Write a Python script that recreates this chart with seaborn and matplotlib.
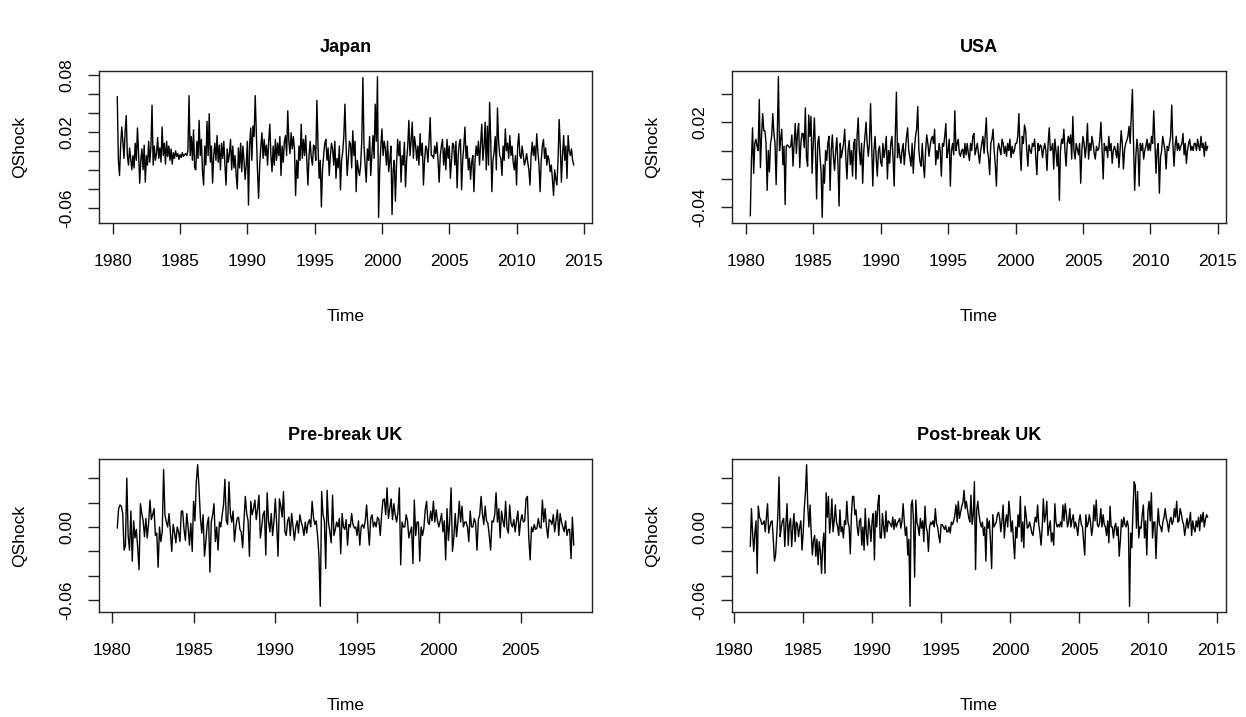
import numpy as np
import pandas as pd
import matplotlib
matplotlib.use("Agg")
import matplotlib.pyplot as plt
import seaborn as sns

# Monthly QShock series (units of 0.001)
japan_start = 1980 + 4 / 12
japan = [
    57, -10, -26, 5, 25, 10, -8, 20, 37, -5, -15, 3,
    -8, -20, -5, -18, 8, -10, 24, -2, -34, -10, 2, -20,
    6, -33, -5, -15, 10, -12, 4, 48, -15, 5, -10, -3,
    14, -8, 3, -12, 25, -5, 8, -14, 10, -6, 5, -10,
    2, -14, -2, -8, 0, -6, -3, -9, -4, -7, -2, -6,
    -4, -3, -5, 0, 58, -5, 15, -10, 22, -18, -20, 10,
    -8, 32, -5, 12, -22, -36, 5, -15, 31, -5, 39, -12,
    5, -34, -5, 8, -10, 16, -12, 6, -20, 8, -8, 10,
    -15, -36, 2, -12, -3, 12, -20, 5, -18, -5, -25, -40,
    3, -18, 8, -22, 5, -10, -30, -15, 10, -57, 5, 24,
    -10, 26, 15, 58, 20, -20, -50, -15, 5, 19, -8, 12,
    -5, 6, -15, 10, 28, -5, -22, 5, -15, 12, -10, 8,
    -5, 15, -26, 5, -12, 10, 16, -5, 42, 10, -3, 19,
    2, 15, 2, -47, -10, -29, 5, -10, 28, -8, 12, -5,
    16, -10, -36, -5, 10, -7, -15, 6, 4, -10, 53, 5,
    -29, -10, -59, -20, -5, 8, 12, -10, 3, -26, -5, 8,
    2, -15, 10, -29, -8, -18, 5, -41, -10, -1, 15, 49,
    5, -26, -8, 10, 7, -18, 21, -5, 10, -43, -10, -20,
    -26, -15, 10, 77, 5, -15, -33, 2, -10, 15, -26, -5,
    16, -8, 49, 10, 78, -70, -20, 5, 23, -5, 10, 2,
    -15, 10, -22, -10, 5, -67, -20, -10, -53, -15, 12, -5,
    10, -33, -5, -15, 9, -38, -10, 5, 32, -5, 10, 30,
    -8, 15, 6, -10, 5, -15, 18, -5, 8, -36, -10, 5,
    2, -12, 10, 35, -5, -5, -8, 5, -3, 9, -10, -33,
    -5, 5, 12, -15, 3, -20, 12, -8, 5, -29, -10, 8,
    6, -15, 10, -39, -5, 8, 12, -41, -10, 5, 25, -8,
    5, -20, -8, -30, -12, -5, -43, -10, 5, -5, 10, -15,
    8, 28, -10, 5, 30, -20, 26, -15, 51, 10, -43, -10,
    -1, 15, -20, 45, 10, -5, -8, -26, 5, -10, 23, 0,
    8, -8, 16, -5, 5, -12, -20, -5, -36, 5, 18, -5,
    -8, 5, -5, -15, -10, -3, -12, -20, -36, -5, 9, -5,
    5, -10, 18, 0, -15, -43, -10, 5, 12, -8, 3, -15,
    -5, -10, -22, -15, -30, -47, -20, -30, -36, -10, 33, 5,
    -33, -5, 16, -10, 5, -29, 16, 0, -5, 2, -10, -15,
]

usa_start = 1980 + 4 / 12
usa = [
    -46, -7, 16, -16, 5, 8, 3, 0, 36, -12, 10, 26,
    14, 14, 5, -28, 0, -15, 5, 10, 26, 12, 5, -24,
    10, 52, 0, 8, 15, -10, 3, -38, 3, 4, 3, 2,
    3, 11, -11, 5, 19, -2, 12, 19, -12, 5, 12, 12,
    2, 30, -5, -11, 25, 10, 24, -16, 5, 23, 0, -34,
    5, 10, -4, -15, -47, -10, -23, 0, -7, 5, 10, -28,
    0, 11, -5, -14, 0, 9, -10, -39, 5, -5, 0, 5,
    15, -5, -20, 0, 7, -10, 0, -18, 5, 8, -20, 10,
    23, 0, -10, 5, -23, 0, 10, 20, 5, -4, 5, 33,
    5, -25, 0, 10, -5, -18, 0, 3, -8, -11, 5, -5,
    1, 10, -20, 0, -9, 5, 10, -5, -25, 10, 41, -5,
    5, -3, -9, 0, 5, -10, 0, 10, 16, 0, -5, -11,
    5, -16, 0, 10, 15, 31, 0, -8, -11, 5, -10, -19,
    0, 11, 5, -4, 3, 8, 10, 5, 15, -10, 0, -6,
    5, 0, -18, 5, 3, 10, 19, -5, 0, 8, -25, 0,
    5, -3, 28, 0, 5, 8, -2, -4, 0, 1, -5, 5,
    -3, 5, -2, -7, 5, 0, 10, 12, -3, 1, 5, -2,
    -9, 0, 5, 10, -2, 10, 23, 0, -5, -17, 5, 8,
    15, 0, -10, -25, 0, 5, 1, -3, 8, 5, -2, 3,
    -4, 5, 0, 8, -5, 3, -2, 0, 5, 5, 10, 26,
    0, -14, 10, 5, 18, 14, 0, -11, 4, 0, -2, 5,
    3, 8, -5, -17, 5, 0, 4, 3, -5, 1, 5, 0,
    -14, 5, 16, 0, 1, 5, -13, 8, 0, -11, 3, -35,
    0, 8, 5, 15, 0, -11, 5, 10, 5, 11, -6, 24,
    0, -6, 5, 1, -3, 5, -23, 0, 10, 5, -5, 3,
    19, -6, 5, 0, 10, 5, -2, -6, 3, 0, 1, 8,
    20, 0, -20, 5, 0, 3, -5, 10, 0, 5, -9, 0,
    3, 0, -5, 5, -12, 0, 14, 5, -13, 0, 5, 7,
    10, 17, 5, 25, 43, 5, -28, -5, 8, 0, -25, 5,
    0, 5, -6, 0, 3, 8, 0, 5, 0, 10, 5, 28,
    5, -16, 0, 5, -30, -5, 0, 10, 5, 0, -13, 3,
    0, 5, 10, 32, 5, -11, 3, 10, 0, 5, 0, 3,
    5, 12, -3, 5, -9, 0, 5, 8, 0, 3, 0, 5,
    5, 0, 8, 3, 0, 10, 2, 5, -4, 6, 0, 3,
]

uk_pre_start = 1980 + 4 / 12
uk_pre = [
    -1, 15, 18, 17, 11, -19, -15, 40, -7, -19, 13, -28,
    5, -9, -2, -17, -35, 19, 11, 5, -8, 7, -9, 3,
    22, 6, 10, 15, -7, -5, -33, 0, -12, -4, 47, 10,
    4, 0, 11, -5, -20, 2, -4, -13, 0, -4, -12, 13,
    13, -2, -11, 11, 0, -15, 3, -20, 21, 5, 37, 51,
    32, 8, -5, 10, -24, -12, 2, 8, -37, 4, 10, 19,
    -12, 0, -19, 4, 0, 10, 18, 39, 5, 2, 37, 11,
    4, 13, -12, 0, 7, 8, -2, -4, -17, 5, 25, 11,
    5, -24, 21, 10, 15, 22, 6, 15, 26, -9, 0, 10,
    13, -23, 28, 5, -4, 11, -7, 5, 23, 2, -24, 23,
    17, 8, 29, -4, -7, 5, 8, -7, 11, 0, -11, 0,
    5, -5, 10, 4, 0, -7, 4, -5, 3, 6, 0, 21,
    8, 2, 5, -7, -23, -65, 29, 10, 5, -34, 30, 4,
    -4, -13, 26, -7, -2, 4, 0, 7, -22, 11, 0, -2,
    6, -15, 2, 0, 11, 2, -1, 0, -7, 5, -15, 0,
    2, -1, 5, 18, 0, -15, 7, 10, 0, 4, 0, 8,
    6, -7, 10, 22, 23, 10, 32, 7, 15, 23, 6, 19,
    10, 4, 12, 32, -31, 4, 0, 0, 10, 5, -9, -4,
    0, -30, 22, -7, 4, 4, -28, 0, -7, -1, 14, 21,
    4, 2, 13, 5, 21, 4, 14, 5, 0, 5, 11, -4,
    5, -27, 15, -11, 5, 32, -20, -9, 11, -8, 4, 21,
    4, 17, 0, 4, 4, 0, -12, 13, 0, 0, 7, 3,
    -19, 6, 10, 25, 11, 2, 17, 5, 3, -7, -19, 5,
    4, 10, 28, 4, 15, -9, 13, 5, 0, 21, -1, -5,
    18, 3, 0, 6, -4, 5, 13, -7, 5, 10, 4, 5,
    23, 25, -9, -27, 0, -4, 2, -2, -1, 7, 0, -1,
    22, 4, 15, 0, -9, 6, 5, 2, 10, -4, 5, 14,
    -7, 11, 4, 0, -4, 5, -7, -2, -2, -26, 8, -15,
]

uk_post_start = 1981 + 2 / 12
uk_post = [
    -16, 15, -5, -20, -5, 5, -38, 17, 8, 6, 2, 3,
    5, -4, 8, 19, -5, 0, 4, 5, -10, -28, -23, -7,
    10, 41, -8, 0, 5, 7, -16, 3, 19, -15, 2, 7,
    -16, 0, 11, -12, 4, 2, -8, 0, 5, -19, -5, 15,
    29, 51, 17, 0, 18, -5, -23, -11, -7, -24, -10, -31,
    -12, -20, -38, -15, -5, -38, 28, 8, 25, -5, 5, 23,
    -4, 5, 18, 4, 0, -7, 14, -4, 0, -9, 5, 2,
    21, 4, 0, -22, 10, 25, 25, 10, 14, 0, -7, 5,
    7, -15, 0, -19, 15, -5, -15, 7, 0, -12, 5, 11,
    -27, 13, 0, 19, 26, -9, -9, 11, 0, -9, 13, -4,
    5, 4, 2, 0, 8, -2, 6, 0, 3, 5, 7, -1,
    5, 19, 4, -7, 0, -23, -10, -65, 18, 22, 5, -41,
    22, 4, 0, -7, 7, -1, 5, -12, 17, 0, -4, -20,
    0, 4, 2, 5, 0, 15, 3, 0, -7, -13, 2, 2,
    0, -2, 1, -4, -4, 0, -5, 4, 2, 5, 10, 18,
    4, 21, 7, 12, 17, 20, 30, 15, 21, 14, 8, 4,
    26, 2, 10, 37, -35, 14, 21, 10, 4, 0, 4, -7,
    0, -28, 7, -1, 5, -12, -34, 10, 0, 2, 4, 10,
    12, 7, -4, 5, 18, -9, 4, 10, 0, 21, 10, -4,
    5, -12, -26, 0, -9, 10, 0, 25, -12, 4, -17, 17,
    10, -1, 0, 4, 0, -5, -7, 2, 8, 4, 18, 2,
    -5, -15, 0, 23, 4, 10, 21, -7, 0, 5, -12, -5,
    -15, 19, 4, 0, 2, 0, 4, 0, 18, 5, 19, 11,
    0, 4, 15, 0, 6, 10, -1, 4, 0, -7, 5, 10,
    2, 0, -12, -23, 10, 0, 3, 10, 4, -7, 0, 18,
    5, 22, 2, 0, 4, 15, 0, 10, 2, 0, -7, 5,
    -13, 17, 0, 0, -9, 0, 3, -7, 0, -24, -11, 6,
    0, 8, 2, 0, 5, 0, -65, -5, -17, 15, 37, 34,
    -1, 29, -9, 0, -1, 10, 18, -9, 5, -23, 13, 21,
    5, 28, -9, 4, 4, -26, 0, 15, 2, 0, -4, 4,
    8, 15, 7, 3, -4, 5, 8, 2, 5, 15, 8, 21,
    4, 5, 15, 11, 5, 2, -7, 0, 7, -1, 5, 12,
    -7, 5, -1, -4, 5, 0, 8, -3, 10, 4, 12, 0,
    6, 10, 8,
]

titles = ["Japan", "USA", "Pre-break UK", "Post-break UK"]
starts = [japan_start, usa_start, uk_pre_start, uk_post_start]
series = [japan, usa, uk_pre, uk_post]
x_ticks = [np.arange(1980, 2016, 5), np.arange(1980, 2016, 5),
           np.arange(1980, 2006, 5), np.arange(1980, 2016, 5)]
y_ticks = [np.arange(-0.06, 0.081, 0.02), np.arange(-0.04, 0.041, 0.02),
           np.arange(-0.06, 0.041, 0.02), np.arange(-0.06, 0.041, 0.02)]
y_shown = [["-0.06", "0.02", "0.08"], ["-0.04", "0.02"],
           ["-0.06", "0.00"], ["-0.06", "0.00"]]

sns.set_style("white")
plt.rcParams["font.family"] = ["Liberation Sans", "DejaVu Sans"]
plt.rcParams["axes.edgecolor"] = "#222222"
plt.rcParams["axes.linewidth"] = 1.0
plt.rcParams["text.color"] = "black"
plt.rcParams["axes.labelcolor"] = "black"
plt.rcParams["xtick.color"] = "black"
plt.rcParams["ytick.color"] = "black"

fig = plt.figure(figsize=(12.46, 7.17), dpi=100)
W, H = 1246, 717
boxes = [(99, 71, 592, 223), (732, 71, 1226, 223),
         (99, 459, 592, 612), (732, 459, 1226, 612)]


def fmt(v):
    s = f"{v:.2f}"
    return "0.00" if s == "-0.00" else s


for i, (l, t, r, b) in enumerate(boxes):
    ax = fig.add_axes([l / W, 1 - b / H, (r - l) / W, (b - t) / H])
    vals = np.array(series[i]) / 1000
    df = pd.DataFrame({"Time": starts[i] + np.arange(len(vals)) / 12,
                       "QShock": vals})
    sns.lineplot(data=df, x="Time", y="QShock", ax=ax, color="black",
                 linewidth=1.0)
    ax.margins(x=0.04, y=0.04)

    ax.set_xticks(x_ticks[i])
    ax.set_xticklabels([str(v) for v in x_ticks[i]])
    yt = np.round(y_ticks[i], 2)
    ax.set_yticks(yt)
    ax.set_yticklabels([fmt(v) if fmt(v) in y_shown[i] else "" for v in yt],
                       rotation=90, va="center")
    ax.tick_params(axis="both", direction="out", length=8, width=1.0,
                   color="#222222", labelsize=12.5, pad=10, bottom=True, left=True)
    ax.tick_params(axis="x", pad=14)

    ax.set_title(titles[i], fontsize=13, fontweight="bold", pad=14)
    ax.set_xlabel("Time", fontsize=12.5)
    ax.set_ylabel("QShock", fontsize=12.5)
    ax.xaxis.set_label_coords(0.5, -86 / (b - t))
    ax.yaxis.set_label_coords(-72 / (r - l), 0.5)
    for s in ax.spines.values():
        s.set_visible(True)

fig.savefig("out.png", dpi=100)
